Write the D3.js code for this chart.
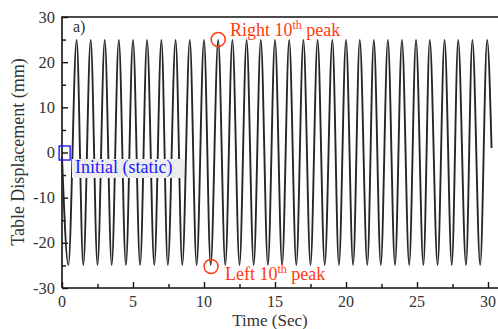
<!DOCTYPE html>
<html><head><meta charset="utf-8">
<script src="https://cdn.jsdelivr.net/npm/d3@7"></script>
<style>html,body{margin:0;padding:0;background:#fff;overflow:hidden}</style>
</head><body>
<svg id="c" width="498" height="329"></svg>
<script>
// Data
const startPoint = {t: 0.0, v: -1};
const peakTimes = [1.03, 2.02, 3.01, 4.0, 5.0, 5.99, 7.0, 8.0, 9.0, 10.0, 11.0, 12.0, 13.0, 14.0, 15.0, 16.0, 17.0, 18.0, 19.04, 20.0, 20.97, 21.96, 22.95, 23.94, 24.93, 25.9, 26.94, 27.9, 28.9, 29.94];
const troughTimes = [0.45, 1.5, 2.5, 3.5, 4.5, 5.5, 6.5, 7.45, 8.47, 9.48, 10.47, 11.5, 12.5, 13.5, 14.5, 15.5, 16.5, 17.5, 18.5, 19.5, 20.5, 21.5, 22.45, 23.45, 24.45, 25.45, 26.45, 27.45, 28.45, 29.45];
const peakValues = [24.9, 24.9, 24.9, 24.9, 24.9, 24.9, 24.9, 24.9, 24.9, 24.9, 24.9, 24.9, 24.9, 24.9, 24.9, 24.9, 24.9, 24.9, 24.9, 24.9, 24.9, 24.9, 24.9, 24.9, 24.9, 24.9, 24.9, 24.9, 24.9, 24.9];
const troughValues = [-24.9, -24.9, -24.9, -24.9, -24.9, -24.9, -24.9, -24.9, -24.9, -24.9, -24.9, -24.9, -24.9, -24.9, -24.9, -24.9, -24.9, -24.9, -24.9, -24.9, -24.9, -24.9, -24.9, -24.9, -24.9, -24.9, -24.9, -24.9, -24.9, -24.9];
const endPoint = {t: 30.25, v: 1};
const xTicks = [0, 5, 10, 15, 20, 25, 30];
const yTicks = [-30, -20, -10, 0, 10, 20, 30];
const xMinor = [2.5, 7.5, 12.5, 17.5, 22.5, 27.5];
const yMinor = [-25, -15, -5, 5, 15, 25];
const annRight = {t: 11.0, v: 24.9, label: "Right 10", sup: "th", tail: " peak"};
const annLeft = {t: 10.5, v: -24.9, label: "Left 10", sup: "th", tail: " peak"};
const annInit = {t: 0.15, v: -1, label: "Initial (static)"};

const svg = d3.select("#c");
const font = "'Liberation Serif','Times New Roman',serif";
const x = d3.scaleLinear().domain([0, 30]).range([62, 488]);
const y = d3.scaleLinear().domain([-30, 30]).range([288, 17]);

const pts = [startPoint]
  .concat(peakTimes.map((t, i) => ({t, v: peakValues[i]})))
  .concat(troughTimes.map((t, i) => ({t, v: troughValues[i]})))
  .concat([endPoint])
  .sort((a, b) => a.t - b.t);

// frame
svg.append("path")
  .attr("d", `M${x(0)},${y(-30)}V${y(30)}H504M${x(0)},${y(-30)}H504`)
  .attr("fill", "none").attr("stroke", "#111").attr("stroke-width", 1.6);

// axes (ticks inward)
const yAx = svg.append("g").attr("transform", `translate(${x(0)},0)`)
  .call(d3.axisRight(y).tickValues(yTicks).tickSize(6).tickFormat(""));
const yAxm = svg.append("g").attr("transform", `translate(${x(0)},0)`)
  .call(d3.axisRight(y).tickValues(yMinor).tickSize(4).tickFormat(""));
const xAx = svg.append("g").attr("transform", `translate(0,${y(-30)})`)
  .call(d3.axisTop(x).tickValues(xTicks).tickSize(6).tickFormat(""));
const xAxm = svg.append("g").attr("transform", `translate(0,${y(-30)})`)
  .call(d3.axisTop(x).tickValues(xMinor).tickSize(4).tickFormat(""));
[yAx, yAxm, xAx, xAxm].forEach(g => {
  g.select(".domain").remove();
  g.selectAll("line").attr("stroke", "#111").attr("stroke-width", 1.4);
});

// tick labels
svg.append("g").selectAll("text").data(yTicks).join("text")
  .attr("x", 55).attr("y", d => y(d) + 5.5)
  .attr("text-anchor", "end").attr("font-family", font).attr("font-size", 16.5).attr("fill", "#333")
  .text(d => d);
svg.append("g").selectAll("text").data(xTicks).join("text")
  .attr("x", d => x(d)).attr("y", 306.5)
  .attr("text-anchor", "middle").attr("font-family", font).attr("font-size", 16).attr("fill", "#333")
  .text(d => d);

// axis titles
svg.append("text").attr("x", 270).attr("y", 325.5).attr("text-anchor", "middle")
  .attr("font-family", font).attr("font-size", 17).attr("fill", "#333").text("Time (Sec)");
svg.append("text").attr("transform", "translate(24,152) rotate(-90)").attr("text-anchor", "middle")
  .attr("font-family", font).attr("font-size", 18).attr("fill", "#333").text("Table Displacement (mm)");

svg.append("text").attr("x", 73).attr("y", 32).attr("font-family", font).attr("font-size", 16)
  .attr("fill", "#333").text("a)");

// the series
const line = d3.line().x(d => x(d.t)).y(d => y(d.v)).curve(d3.curveMonotoneX);
svg.append("path").datum(pts).attr("d", line)
  .attr("fill", "none").attr("stroke", "#262626").attr("stroke-width", 1.9);

// annotations
const red = "#ff3a10";
function supLabel(a, tx, ty) {
  const t = svg.append("text").attr("x", tx).attr("y", ty).attr("font-family", font)
    .attr("font-size", 18).attr("fill", red);
  t.append("tspan").text(a.label);
  t.append("tspan").attr("dy", -7).attr("font-size", 12).text(a.sup);
  t.append("tspan").attr("dy", 7).text(a.tail);
}
svg.append("circle").attr("cx", x(annRight.t)).attr("cy", y(annRight.v) - 0.5).attr("r", 7)
  .attr("fill", "none").attr("stroke", red).attr("stroke-width", 1.5);
supLabel(annRight, 230, 36);
svg.append("circle").attr("cx", x(annLeft.t)).attr("cy", y(annLeft.v) + 1.5).attr("r", 7)
  .attr("fill", "none").attr("stroke", red).attr("stroke-width", 1.5);
supLabel(annLeft, 225, 280);

// initial (static)
svg.append("rect").attr("x", 72).attr("y", 159).attr("width", 112).attr("height", 19)
  .attr("fill", "#ececec");
svg.append("text").attr("x", 75).attr("y", 173).attr("font-family", font).attr("font-size", 18)
  .attr("fill", "#1a1aff").text(annInit.label);
svg.append("rect").attr("x", x(annInit.t) - 5).attr("y", y(annInit.v) - 11).attr("width", 11).attr("height", 14)
  .attr("fill", "none").attr("stroke", "#1a1aff").attr("stroke-width", 1.4);
</script>
</body></html>
